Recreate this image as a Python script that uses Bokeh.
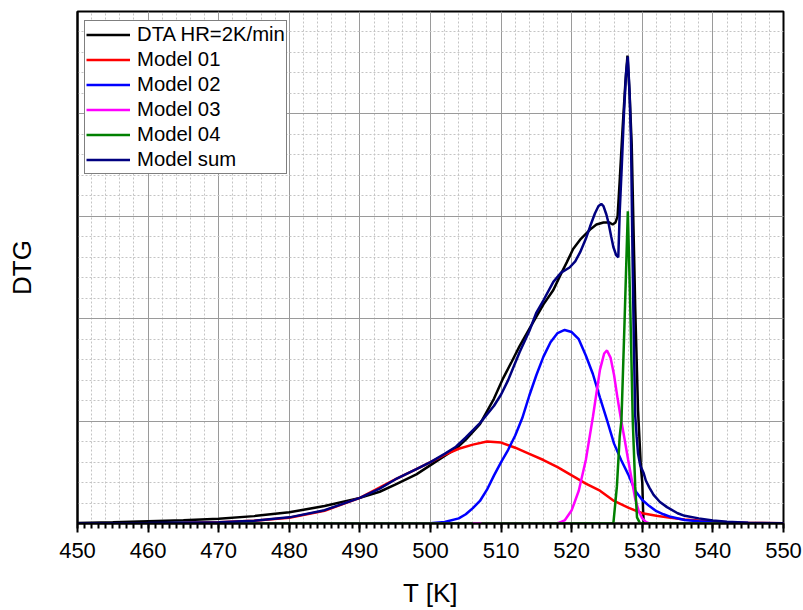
import math
from bokeh.plotting import figure
from bokeh.models import SingleIntervalTicker, FixedTicker, Legend, LegendItem, Range1d
from bokeh.embed import file_html
from bokeh.resources import INLINE

nan = math.nan

# DTA HR=2K/min (black)
T_dta = [450, 455, 460, 465, 470, 475, 480, 485, 490, 492.8, 495, 498, 500, 502, 503.6, 505, 507, 509,
         510.3, 511.5, 512.6, 514, 515, 516, 517.4, 518.5, 519.3, 520.2, 521.3, 522.6, 523.5, 524.5,
         525.3, 525.8, 526.2, 526.5, 526.8, 527.2, 527.6, 527.9, 528.2, 528.5, 529.0, 529.4, 529.8,
         530.0, 530.1, 530.2, 535, 540, 545, 550]
dta = [0.005, 0.012, 0.022, 0.032, 0.046, 0.072, 0.11, 0.17, 0.25, 0.31, 0.38, 0.48, 0.57, 0.66, 0.73,
       0.82, 0.97, 1.22, 1.42, 1.58, 1.73, 1.9, 2.02, 2.14, 2.28, 2.44, 2.55, 2.68, 2.78, 2.87, 2.92,
       2.94, 2.94, 2.92, 2.94, 3.0, 3.35, 3.85, 4.3, 4.57, 4.2, 3.7, 2.1, 1.1, 0.55, 0.4, 0.15, 0.0,
       0.0, 0.0, 0.0, 0.0]

# Model 01 (red)
T_m1 = [450, 455, 460, 465, 470, 475, 480, 485, 490, 495, 498, 500, 502, 504, 506, 508, 510, 512, 514,
        516, 518, 520, 522, 524, 526, 528, 530, 532, 534, 536, 538, 540, 545, 550]
m1 = [0.0, 0.0, 0.002, 0.005, 0.011, 0.026, 0.056, 0.125, 0.25, 0.43, 0.53, 0.6, 0.67, 0.73, 0.77, 0.8,
      0.79, 0.74, 0.68, 0.62, 0.55, 0.47, 0.39, 0.32, 0.22, 0.155, 0.1, 0.075, 0.055, 0.04, 0.03, 0.017,
      0.006, 0.002]

# Model 02 (blue)
T_m2 = [450, 495, 500, 502, 504, 505, 506, 507, 508, 509, 510, 511, 512, 513, 514, 515, 516, 517, 518,
        519, 520, 521, 522, 523, 524, 525, 526, 527, 528, 529, 530, 531, 532, 533, 534, 536, 538, 540,
        545, 550]
m2 = [0.0, 0.0, 0.003, 0.015, 0.05, 0.09, 0.15, 0.22, 0.33, 0.47, 0.6, 0.72, 0.86, 1.03, 1.25, 1.45,
      1.63, 1.77, 1.86, 1.89, 1.87, 1.8, 1.64, 1.46, 1.23, 1.01, 0.78, 0.62, 0.48, 0.32, 0.23, 0.17,
      0.12, 0.09, 0.065, 0.035, 0.022, 0.012, 0.004, 0.001]

# Model 03 (magenta)
T_m3 = [450, 518, 519, 520, 521, 522, 523, 524, 524.6, 525, 525.5, 526, 526.5, 527, 527.5, 528, 528.5,
        529, 529.5, 530, 530.5, 531, 550]
m3 = [0.0, 0.0, 0.03, 0.13, 0.32, 0.62, 1.04, 1.5, 1.66, 1.69, 1.62, 1.45, 1.22, 1.01, 0.82, 0.62,
      0.43, 0.24, 0.12, 0.05, 0.015, 0.0, 0.0]

# Model 04 (green)
T_m4 = [450, 506.0, 506.5, 507.2, 525.9, 526.4, 526.8, 527.05, 527.5, 527.95, 528.3, 528.65, 529.0,
        529.25, 529.7, 550]
m4 = [0.0, 0.0, nan, 0.0, 0.0, 0.36, 0.85, 1.01, 2.0, 3.05, 2.1, 1.0, 0.36, 0.06, 0.0, 0.0]

# Model sum (navy)
T_sum = [450, 460, 470, 475, 480, 485, 490, 492.8, 495, 498, 500, 502, 503.6, 505, 507, 509, 510, 511,
         512.6, 514, 515, 516, 517.4, 518.5, 519.7, 520.5, 521.2, 522, 522.6, 523.3, 523.8, 524.2,
         524.5, 524.9, 525.2, 525.6, 525.9, 526.3, 526.6, 526.8, 527.1, 527.4, 527.7, 527.95, 528.2,
         528.4, 528.6, 528.8, 529.0, 529.2, 529.4, 529.7, 530.2, 530.5, 531.0, 531.6, 532.5, 533.5,
         535, 536, 538, 540, 542, 545, 550]
msum = [0.002, 0.004, 0.012, 0.027, 0.06, 0.13, 0.25, 0.34, 0.43, 0.53, 0.6, 0.68, 0.75, 0.84, 0.98,
        1.15, 1.26, 1.4, 1.67, 1.88, 2.06, 2.18, 2.36, 2.45, 2.5, 2.56, 2.65, 2.78, 2.9, 3.03, 3.1,
        3.12, 3.1, 3.02, 2.94, 2.8, 2.7, 2.62, 2.6, 3.04, 3.5, 4.0, 4.4, 4.56, 4.2, 3.75, 2.7, 1.8,
        1.05, 0.85, 0.68, 0.57, 0.49, 0.42, 0.35, 0.28, 0.21, 0.16, 0.1, 0.075, 0.05, 0.03, 0.016,
        0.007, 0.002]

labels = ["DTA HR=2K/min", "Model 01", "Model 02", "Model 03", "Model 04", "Model sum"]
colors = ["#000000", "#ff0000", "#0000ff", "#ff00ff", "#008000", "#000080"]
series = [(T_dta, dta), (T_m1, m1), (T_m2, m2), (T_m3, m3), (T_m4, m4), (T_sum, msum)]
x_title = "T [K]"
y_title = "DTG"

FONT = "Liberation Sans"

p = figure(width=803, height=610, output_backend="svg", toolbar_location=None,
           x_range=Range1d(450, 550), y_range=Range1d(0, 5),
           min_border_left=77, min_border_right=20, min_border_top=11, min_border_bottom=87,
           background_fill_color="white", border_fill_color="white")

renderers = []
for (xs, ys), c in zip(series, colors):
    r = p.line(xs, ys, line_color=c, line_width=2.5)
    renderers.append(r)

# grids
p.xgrid.ticker = SingleIntervalTicker(interval=10, num_minor_ticks=5)
p.ygrid.ticker = SingleIntervalTicker(interval=1, num_minor_ticks=5)
for g in (p.xgrid, p.ygrid):
    g.grid_line_color = "#9a9a9a"
    g.grid_line_width = 1
    g.minor_grid_line_color = "#c4c4c4"
    g.minor_grid_line_dash = "2 2"
    g.minor_grid_line_width = 1

# x axis
xa = p.xaxis[0]
xa.ticker = SingleIntervalTicker(interval=10, num_minor_ticks=10)
xa.axis_label = x_title
xa.axis_line_width = 2
xa.axis_line_color = "black"
xa.major_tick_out = 9
xa.major_tick_in = 0
xa.minor_tick_out = 5
xa.minor_tick_in = 0
xa.major_tick_line_width = 2
xa.minor_tick_line_width = 2
xa.major_tick_line_color = "black"
xa.minor_tick_line_color = "black"
xa.major_label_text_font = FONT
xa.major_label_text_font_size = "22px"
xa.major_label_text_color = "black"
xa.major_label_standoff = 10
xa.axis_label_text_font = FONT
xa.axis_label_text_font_size = "26px"
xa.axis_label_text_font_style = "normal"
xa.axis_label_text_color = "black"
xa.axis_label_standoff = 17

# y axis
ya = p.yaxis[0]
ya.ticker = FixedTicker(ticks=[])
ya.axis_label = y_title
ya.axis_line_width = 2
ya.axis_line_color = "black"
ya.major_tick_out = 0
ya.minor_tick_out = 0
ya.axis_label_text_font = FONT
ya.axis_label_text_font_size = "26px"
ya.axis_label_text_font_style = "normal"
ya.axis_label_text_color = "black"
ya.axis_label_standoff = 41

p.outline_line_color = "black"
p.outline_line_width = 2
p.outline_line_alpha = 1

items = [LegendItem(label=l, renderers=[r]) for l, r in zip(labels, renderers)]
legend = Legend(items=items, location=(7, 349),
                label_text_font=FONT, label_text_font_size="20.3px", label_text_color="black",
                label_height=25, glyph_height=25, glyph_width=44, label_standoff=7,
                spacing=0, padding=1, margin=0,
                border_line_color="black", border_line_width=1,
                background_fill_color="white", background_fill_alpha=1)
p.add_layout(legend)

open("out.html", "w").write(file_html(p, INLINE))
